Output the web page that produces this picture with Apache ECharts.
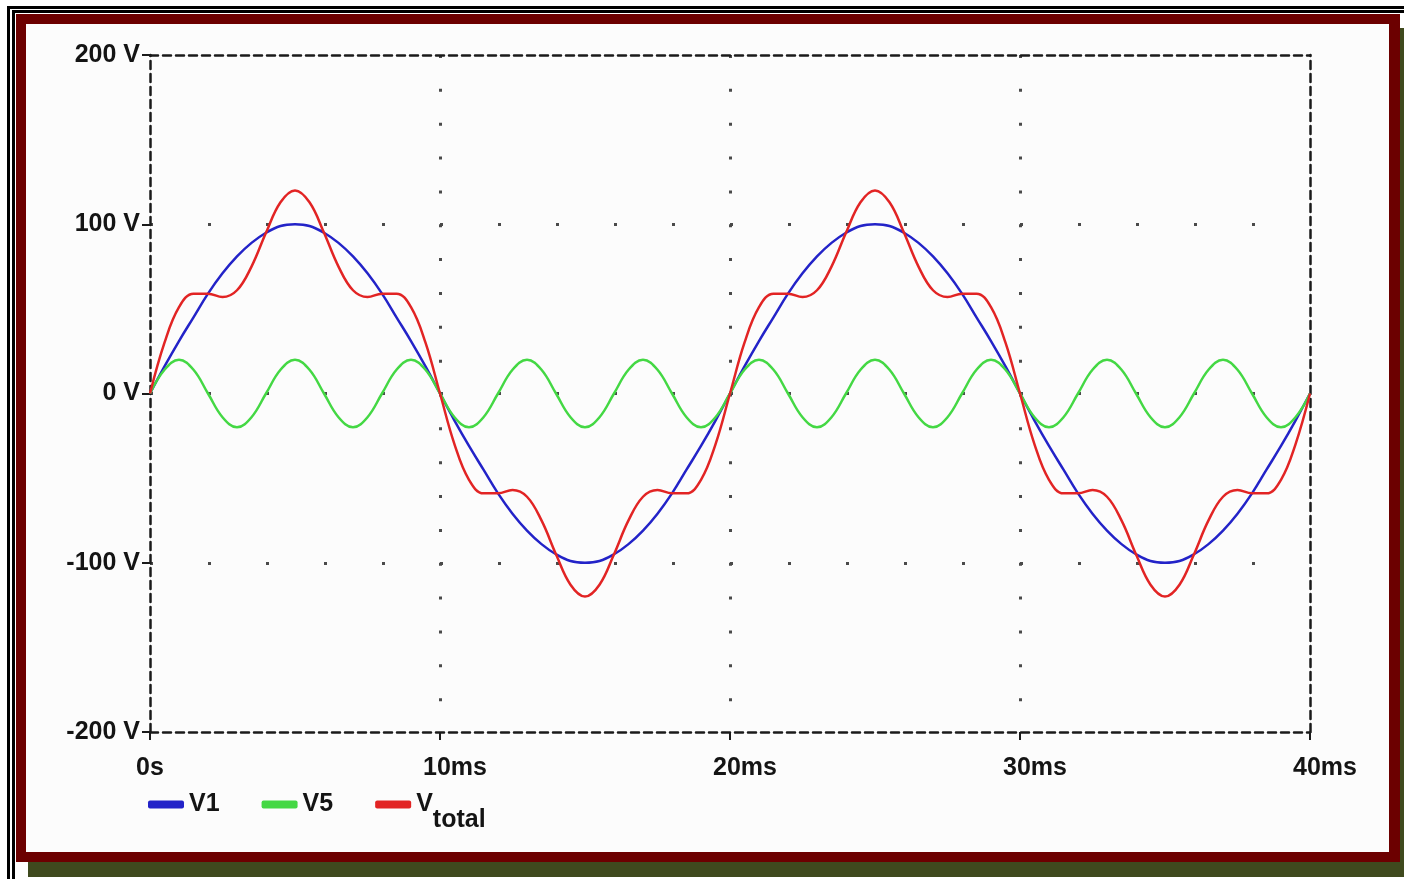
<!DOCTYPE html>
<html>
<head>
<meta charset="utf-8">
<title>V1 + V5 = Vtotal</title>
<script src="https://cdn.jsdelivr.net/npm/echarts@6/dist/echarts.min.js"></script>
<style>
  html, body { margin: 0; padding: 0; background: #fff; }
  .box { position: absolute; box-sizing: border-box; }
  #black1 { left: 7px; top: 6px; right: 0; bottom: 0; border-left: 3px solid #000; border-top: 3px solid #000; }
  #black2 { left: 12px; top: 10px; right: 0; bottom: 0; border-left: 3px solid #000; border-top: 3px solid #000; }
  #shadow { left: 28px; top: 28px; right: 0; bottom: 2px; background: #3f4a1e; }
  #redframe { left: 16px; top: 14px; width: 1384px; height: 848px; background: #6c0000; }
  #paper { left: 26px; top: 24px; width: 1363px; height: 828px; background: #fcfcfc; }
  #chart { position: absolute; left: 0; top: 0; width: 1404px; height: 879px; }
</style>
</head>
<body>
<div class="box" id="black1"></div>
<div class="box" id="black2"></div>
<div class="box" id="shadow"></div>
<div class="box" id="redframe"></div>
<div class="box" id="paper"></div>
<div id="chart"></div>
<script>
var chart = echarts.init(document.getElementById('chart'));

// samples every 0.5 ms, 0 .. 40 ms
const STEP_MS = 0.5;

const v1 = [0, 16, 31, 45, 59, 71, 81, 89, 95, 99, 100, 99, 95, 89, 81, 71, 59, 45, 31, 16,
  0, -16, -31, -45, -59, -71, -81, -89, -95, -99, -100, -99, -95, -89, -81, -71, -59, -45, -31, -16,
  0, 16, 31, 45, 59, 71, 81, 89, 95, 99, 100, 99, 95, 89, 81, 71, 59, 45, 31, 16,
  0, -16, -31, -45, -59, -71, -81, -89, -95, -99, -100, -99, -95, -89, -81, -71, -59, -45, -31, -16, 0];

const v5 = [0, 14, 20, 14, 0, -14, -20, -14, 0, 14, 20, 14, 0, -14, -20, -14, 0, 14, 20, 14,
  0, -14, -20, -14, 0, 14, 20, 14, 0, -14, -20, -14, 0, 14, 20, 14, 0, -14, -20, -14,
  0, 14, 20, 14, 0, -14, -20, -14, 0, 14, 20, 14, 0, -14, -20, -14, 0, 14, 20, 14,
  0, -14, -20, -14, 0, 14, 20, 14, 0, -14, -20, -14, 0, 14, 20, 14, 0, -14, -20, -14, 0];

const vTotal = [0, 30, 51, 59, 59, 57, 61, 75, 95, 113, 120, 113, 95, 75, 61, 57, 59, 59, 51, 30,
  0, -30, -51, -59, -59, -57, -61, -75, -95, -113, -120, -113, -95, -75, -61, -57, -59, -59, -51, -30,
  0, 30, 51, 59, 59, 57, 61, 75, 95, 113, 120, 113, 95, 75, 61, 57, 59, 59, 51, 30,
  0, -30, -51, -59, -59, -57, -61, -75, -95, -113, -120, -113, -95, -75, -61, -57, -59, -59, -51, -30, 0];

const seriesNames = ['V1', 'V5', 'Vtotal'];
const seriesColors = ['#2323c8', '#44d844', '#e22424'];

function pairs(values) {
  return values.map(function (v, i) { return [i * STEP_MS, v]; });
}

var axisDash = { color: '#1a1a1a', width: 2.5, type: [8, 5] };
var font = { fontFamily: 'Liberation Sans', fontWeight: 'bold', fontSize: 25, color: '#141414' };
var labelFont = Object.assign({}, font);

var option = {
  animation: false,
  backgroundColor: 'transparent',
  grid: { left: 150, right: 94, top: 55, bottom: 147 },
  legend: {
    left: 143,
    top: 787,
    data: seriesNames,
    icon: 'roundRect',
    itemWidth: 36,
    itemHeight: 8,
    itemGap: 42,
    textStyle: Object.assign({}, font, {
      rich: {
        v: Object.assign({}, font),
        s: Object.assign({}, font, { padding: [32, 0, 0, 0] })
      }
    }),
    formatter: function (name) {
      return name === 'Vtotal' ? '{v|V}{s|total}' : name;
    }
  },
  xAxis: [{
    type: 'value',
    min: 0,
    max: 40,
    interval: 10,
    position: 'bottom',
    axisLine: { show: true, onZero: false, lineStyle: axisDash },
    axisTick: { show: true, length: 8, lineStyle: { color: '#1a1a1a', width: 2 } },
    axisLabel: Object.assign({}, labelFont, {
      margin: 24,
      padding: [0, 0, 0, 30],
      rich: { z: Object.assign({}, font, { padding: [0, 30, 0, 0] }) },
      formatter: function (v) { return v === 0 ? '{z|0s}' : v + 'ms'; }
    }),
    splitLine: {
      show: true,
      showMinLine: false,
      showMaxLine: false,
      lineStyle: { color: '#4a4a4a', width: 3, type: [3, 30.85] }
    }
  }, {
    type: 'value',
    min: 0,
    max: 40,
    position: 'top',
    axisLine: { show: true, onZero: false, lineStyle: axisDash },
    axisTick: { show: false },
    axisLabel: { show: false },
    splitLine: { show: false }
  }],
  yAxis: [{
    type: 'value',
    min: -200,
    max: 200,
    interval: 100,
    position: 'left',
    axisLine: { show: true, onZero: false, lineStyle: axisDash },
    axisTick: { show: true, length: 8, lineStyle: { color: '#1a1a1a', width: 2 } },
    axisLabel: Object.assign({}, labelFont, {
      margin: 10,
      formatter: function (v) { return v + ' V'; }
    }),
    splitLine: {
      show: true,
      showMinLine: false,
      showMaxLine: false,
      lineStyle: { color: '#4a4a4a', width: 3, type: [3, 55] }
    }
  }, {
    type: 'value',
    min: -200,
    max: 200,
    position: 'right',
    axisLine: { show: true, onZero: false, lineStyle: axisDash },
    axisTick: { show: false },
    axisLabel: { show: false },
    splitLine: { show: false }
  }],
  series: seriesNames.map(function (name, k) {
    return {
      name: name,
      type: 'line',
      data: pairs([v1, v5, vTotal][k]),
      showSymbol: false,
      smooth: 0.4,
      color: seriesColors[k],
      lineStyle: { width: 2.5, color: seriesColors[k] }
    };
  })
};

chart.setOption(option);
</script>
</body>
</html>
